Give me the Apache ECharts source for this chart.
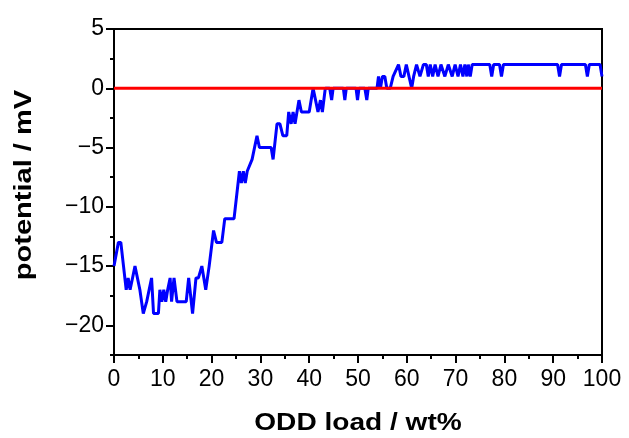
<!DOCTYPE html>
<html>
<head>
<meta charset="utf-8">
<script src="https://cdn.jsdelivr.net/npm/echarts@6/dist/echarts.min.js"></script>
<style>
  html, body { margin: 0; padding: 0; background: #fff; }
  #chart { width: 629px; height: 438px; }
</style>
</head>
<body>
<div id="chart"></div>
<script>
// ODD load (wt%) and measured potential (mV)
const loadPct = [
  0, 0.9, 1.4, 2.5, 2.9, 3.3, 3.8, 4.3, 4.7, 5.3,
  6.0, 6.7, 7.2, 7.7, 8.1, 9.1, 9.4, 9.8, 10.2, 10.6,
  11.0, 11.5, 11.8, 12.3, 12.9, 14.8, 15.3, 16.1, 16.8, 17.3,
  18.0, 18.4, 18.8, 19.5, 20.4, 21.0, 22.1, 22.7, 24.6, 25.7,
  26.1, 26.5, 26.9, 27.3, 28.3, 29.3, 29.8, 32.2, 32.6, 33.4,
  34.0, 34.6, 35.4, 35.8, 36.3, 36.7, 37.1, 37.9, 38.4, 40.0,
  40.8, 41.3, 41.8, 42.3, 42.7, 43.3, 44.2, 44.6, 44.9, 47.0,
  47.3, 47.6, 49.6, 49.9, 50.2, 51.4, 51.8, 52.1, 53.9, 54.2,
  54.6, 55.0, 55.5, 55.9, 56.6, 57.2, 57.6, 58.3, 58.8, 59.4,
  59.9, 60.3, 61.0, 61.4, 62.0, 62.7, 63.4, 64.0, 64.4, 64.8,
  65.3, 65.8, 66.4, 67.0, 67.8, 68.5, 69.3, 69.9, 70.5, 71.0,
  71.5, 71.9, 72.3, 72.6, 73.0, 73.4, 77.0, 77.4, 77.8, 79.0,
  79.4, 79.8, 90.9, 91.3, 91.7, 96.6, 97.0, 97.4, 99.6, 100
];
const potential = [
  -15, -13, -13, -17, -16, -17, -16, -15, -15, -17,
  -19, -18, -17, -16, -19, -19, -17, -18, -17, -18,
  -17, -16, -18, -16, -18, -18, -16, -19, -16, -16,
  -15, -15, -17, -15, -12, -13, -13, -11, -11, -7,
  -8, -7, -8, -7, -6, -4, -5, -5, -6, -3,
  -3, -4, -4, -2, -3, -2, -3, -1, -2, -2,
  0, -1, -2, -1, -2, 0, 0, -1, 0, 0,
  -1, 0, 0, -1, 0, 0, -1, 0, 0, 1,
  0, 1, 1, 0, 0, 1, 1, 2, 1, 1,
  2, 2, 0, 1, 2, 1, 2, 2, 1, 2,
  1, 2, 1, 2, 1, 2, 1, 2, 1, 2,
  1, 2, 1, 2, 1, 2, 2, 1, 2, 2,
  1, 2, 2, 1, 2, 2, 1, 2, 2, 1
];

// zero reference line
const refLoad = [0, 100];
const refPotential = [0, 0];

// axis tick values
const xTicks = [0, 10, 20, 30, 40, 50, 60, 70, 80, 90, 100];
const yTicks = [-20, -15, -10, -5, 0, 5];
const yMinorTicks = [-22.5, -17.5, -12.5, -7.5, -2.5, 2.5];
const yRange = [-22.5, 5];

const curve = loadPct.map((x, i) => [x, potential[i]]);
const refLine = refLoad.map((x, i) => [x, refPotential[i]]);

const FONT = '"Liberation Sans", Arial, sans-serif';
const black = '#000';
// typographic minus for negative tick labels
const fmtTick = (v) => String(v).replace('-', '\u2212');

const chart = echarts.init(document.getElementById('chart'), null, { renderer: 'canvas' });

chart.setOption({
  animation: false,
  backgroundColor: '#fff',
  grid: {
    left: 114, right: 27, top: 29, bottom: 83,
    show: true, borderColor: black, borderWidth: 2, backgroundColor: 'transparent'
  },
  xAxis: {
    type: 'value',
    min: xTicks[0],
    max: xTicks[xTicks.length - 1],
    interval: 10,
    axisLine: { show: true, onZero: false, lineStyle: { color: black, width: 2 } },
    axisTick: { show: true, inside: false, length: 8, lineStyle: { color: black, width: 2 } },
    minorTick: { show: true, splitNumber: 2, length: 4, lineStyle: { color: black, width: 2 } },
    splitLine: { show: false },
    minorSplitLine: { show: false },
    axisLabel: { fontSize: 23, color: black, fontFamily: FONT, margin: 13 }
  },
  yAxis: [
    {
      type: 'value',
      position: 'left',
      min: yRange[0],
      max: yRange[1],
      axisLine: { show: true, onZero: false, lineStyle: { color: black, width: 2 } },
      axisTick: { show: true, inside: false, length: 8, customValues: yTicks, lineStyle: { color: black, width: 2 } },
      splitLine: { show: false },
      axisLabel: { fontSize: 23, color: black, fontFamily: FONT, margin: 10, customValues: yTicks, formatter: fmtTick }
    },
    {
      type: 'value',
      position: 'left',
      min: yRange[0],
      max: yRange[1],
      axisLine: { show: false },
      axisTick: { show: true, inside: false, length: 4, customValues: yMinorTicks, lineStyle: { color: black, width: 2 } },
      splitLine: { show: false },
      axisLabel: { show: false }
    }
  ],
  graphic: [
    {
      type: 'text',
      x: 358, y: 423,
      scaleX: 1.17,
      style: {
        text: 'ODD load / wt%',
        font: 'bold 24px ' + FONT,
        fill: black,
        align: 'center',
        verticalAlign: 'middle'
      }
    },
    {
      type: 'text',
      x: 24, y: 185,
      rotation: Math.PI / 2,
      scaleX: 1.21,
      style: {
        text: 'potential / mV',
        font: 'bold 24px ' + FONT,
        fill: black,
        align: 'center',
        verticalAlign: 'middle'
      }
    }
  ],
  series: [
    {
      type: 'line',
      data: curve,
      showSymbol: false,
      lineStyle: { color: '#0000ff', width: 3 },
      itemStyle: { color: '#0000ff' },
      z: 2
    },
    {
      type: 'line',
      data: refLine,
      showSymbol: false,
      lineStyle: { color: '#ff0000', width: 2.8 },
      itemStyle: { color: '#ff0000' },
      z: 3
    }
  ]
});
</script>
</body>
</html>
